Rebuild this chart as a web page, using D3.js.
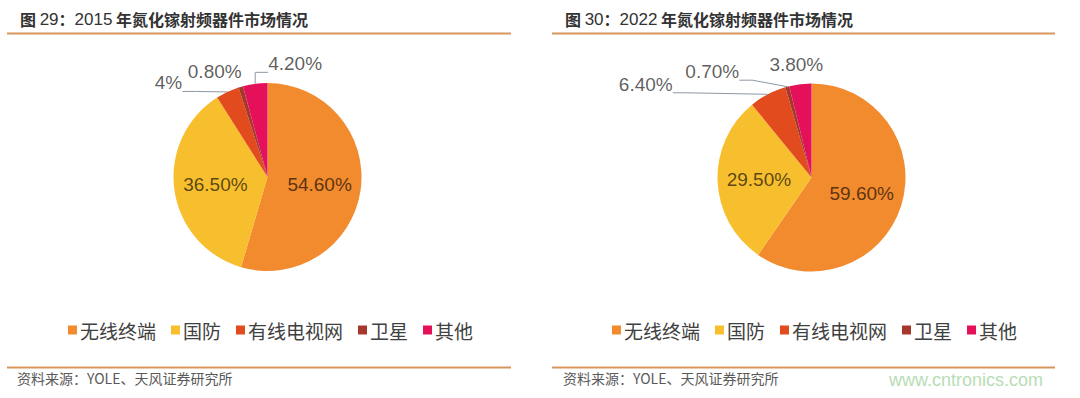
<!DOCTYPE html>
<html>
<head>
<meta charset="utf-8">
<script src="https://cdn.jsdelivr.net/npm/d3@7"></script>
<style>
  body { margin: 0; background: #fff; }
  svg { display: block; }
</style>
</head>
<body>
<svg id="chart" width="1080" height="398"></svg>
<script>
// data
const categories = ["无线终端", "国防", "有线电视网", "卫星", "其他"];
const values2015 = [54.6, 36.5, 4, 0.8, 4.2];
const values2022 = [59.6, 29.5, 6.4, 0.7, 3.8];
const labels2015 = ["54.60%", "36.50%", "4%", "0.80%", "4.20%"];
const labels2022 = ["59.60%", "29.50%", "6.40%", "0.70%", "3.80%"];
const sliceColors = ["#F28A2E", "#F7BE2E", "#E14B1E", "#A5382A", "#E4115A"];

const cjk = "'Noto Sans CJK SC', 'Noto Sans', sans-serif";
const latin = "'Liberation Sans', Arial, sans-serif";

// layout of each panel; outside label offsets are relative to the slice's outer edge
const panels = [
  {
    x0: 7, x1: 511, titleX: 20, sourceX: 17,
    title: ["图 ", "29", "：", "2015", " 年氮化镓射频器件市场情况"],
    values: values2015, labels: labels2015,
    cx: 267.5, cy: 177, r: 94,
    outside: { 2: [-59, -9], 3: [-26, -15], 4: [40, -20] }
  },
  {
    x0: 552, x1: 1055, titleX: 565, sourceX: 563,
    title: ["图 ", "30", "：", "2022", " 年氮化镓射频器件市场情况"],
    values: values2022, labels: labels2022,
    cx: 811.5, cy: 177.5, r: 94,
    outside: { 2: [-122, -10], 3: [-75, -15], 4: [-4, -20] }
  }
];

const svg = d3.select("#chart");
const color = d3.scaleOrdinal().domain(categories).range(sliceColors);

panels.forEach(p => {
  const g = svg.append("g");

  // title (CJK bold, digits regular) + rules
  const title = g.append("text")
    .attr("x", p.titleX).attr("y", 18.5)
    .attr("dominant-baseline", "central")
    .style("font-size", "16px")
    .attr("fill", "#333");
  p.title.forEach(s => {
    const isNum = /^\d+$/.test(s);
    title.append("tspan")
      .style("font-family", isNum ? latin : cjk)
      .style("font-weight", isNum ? "normal" : "bold")
      .style("font-size", isNum ? "17px" : "16px")
      .attr("xml:space", "preserve")
      .text(s);
  });

  [33.5, 367.5].forEach(y => {
    g.append("line")
      .attr("x1", p.x0).attr("x2", p.x1).attr("y1", y).attr("y2", y)
      .attr("stroke", "#D8965C").attr("stroke-width", 2);
  });

  g.append("text")
    .attr("x", p.sourceX).attr("y", 378)
    .attr("dominant-baseline", "central")
    .style("font-family", cjk).style("font-size", "14px")
    .attr("fill", "#595959")
    .text("资料来源：YOLE、天风证券研究所");

  // pie
  const rows = categories.map((c, i) => ({ cat: c, value: p.values[i], label: p.labels[i], i }));
  const pie = d3.pie().sort(null).value(d => d.value);
  const arcs = pie(rows);
  const arc = d3.arc().innerRadius(0).outerRadius(p.r);
  const labelArc = d3.arc().innerRadius(p.r * 0.56).outerRadius(p.r * 0.56);
  const edgeArc = d3.arc().innerRadius(p.r).outerRadius(p.r);

  const pg = g.append("g").attr("transform", `translate(${p.cx},${p.cy})`);
  pg.selectAll("path").data(arcs).enter().append("path")
    .attr("d", arc)
    .attr("fill", d => color(d.data.cat));

  arcs.forEach(d => {
    const off = p.outside[d.data.i];
    if (!off) {
      const [lx, ly] = labelArc.centroid(d);
      pg.append("text")
        .attr("x", lx).attr("y", ly)
        .attr("text-anchor", "middle").attr("dominant-baseline", "central")
        .style("font-family", latin).style("font-size", "19px")
        .attr("fill", "#000").attr("fill-opacity", 0.65)
        .text(d.data.label);
      return;
    }
    const [ex, ey] = edgeArc.centroid(d);
    const t = pg.append("text")
      .attr("x", ex + off[0]).attr("y", ey + off[1])
      .attr("text-anchor", "middle").attr("dominant-baseline", "central")
      .style("font-family", latin).style("font-size", "19px")
      .attr("fill", "#000").attr("fill-opacity", 0.65)
      .text(d.data.label);
    const b = t.node().getBBox();
    const ax = Math.max(b.x, Math.min(ex, b.x + b.width));
    const ay = Math.max(b.y + 2, Math.min(ey, b.y + b.height - 2));
    if (Math.hypot(ex - ax, ey - ay) < 15) return;
    const pts = [[ax, ay]];
    if (ax === b.x || ax === b.x + b.width) {
      const dir = ex < ax ? -1 : 1;
      pts.push([ax + dir * Math.min(13, Math.abs(ex - ax)), ay]);
    }
    pts.push([ex, ey]);
    pg.append("path")
      .attr("d", d3.line()(pts))
      .attr("fill", "none").attr("stroke", "#8E98A3").attr("stroke-width", 1);
  });

  // legend centred under the pie
  const lg = g.append("g");
  let x = 0;
  categories.forEach((c, i) => {
    const item = lg.append("g").attr("transform", `translate(${x},0)`);
    item.append("rect")
      .attr("x", 0).attr("y", -4.5).attr("width", 9).attr("height", 9)
      .attr("fill", color(c));
    const tx = item.append("text")
      .attr("x", 12).attr("y", 0)
      .attr("dominant-baseline", "central")
      .style("font-family", cjk).style("font-size", "19px")
      .attr("fill", "#404040")
      .text(c);
    x += 12 + tx.node().getComputedTextLength() + 15;
  });
  const total = x - 15;
  lg.attr("transform", `translate(${p.cx + 3 - total / 2},330)`);
});

// watermark
svg.append("text")
  .attr("x", 1043).attr("y", 380)
  .attr("text-anchor", "end").attr("dominant-baseline", "central")
  .style("font-family", latin).style("font-size", "18px")
  .attr("fill", "#B7DDB5")
  .text("www.cntronics.com");
</script>
</body>
</html>
